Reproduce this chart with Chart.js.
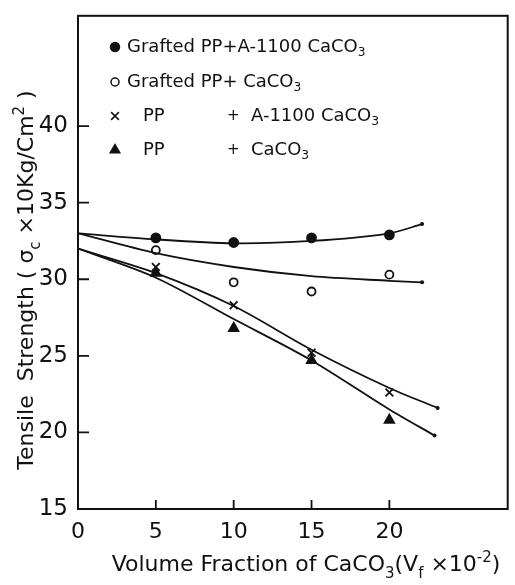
<!DOCTYPE html>
<html>
<head>
<meta charset="utf-8">
<script src="https://cdn.jsdelivr.net/npm/chart.js@4.4.0/dist/chart.umd.min.js"></script>
<style>
  html, body { margin: 0; padding: 0; background: #fff; }
  #wrap { width: 515px; height: 585px; }
</style>
</head>
<body>
<div id="wrap"><canvas id="chart"></canvas></div>
<script>
// measured points (volume fraction x 10^-2)
const fractions = [5, 10, 15, 20];
const graftedA1100 = [32.7, 32.4, 32.7, 32.9];
const graftedCaCO3 = [31.9, 29.8, 29.2, 30.3];
const ppA1100 = [30.8, 28.3, 25.2, 22.6];
const ppCaCO3 = [30.4, 26.8, 24.7, 20.8];

// hand-drawn fit curves
const curveAX = [0, 5, 10, 15, 20, 22.1];
const curveA = [33.0, 32.6, 32.35, 32.5, 33.0, 33.6];
const curveBX = [0, 5, 10, 15, 20, 22.1];
const curveB = [33.0, 31.7, 30.8, 30.2, 29.9, 29.8];
const curveCX = [0, 5, 10, 15, 20, 23.1];
const curveC = [32.0, 30.4, 28.25, 25.4, 22.9, 21.6];
const curveDX = [0, 5, 10, 15, 20, 22.9];
const curveD = [32.0, 30.1, 27.4, 24.7, 21.5, 19.8];

const xTicks = [0, 5, 10, 15, 20];
const yTicks = [15, 20, 25, 30, 35, 40];

const FONT = "'DejaVu Sans', sans-serif";
const INK = "#111";

const toXY = (xs, ys) => xs.map((x, i) => ({ x, y: ys[i] }));

function curveDataset(xs, ys) {
  return {
    data: toXY(xs, ys),
    borderColor: INK,
    backgroundColor: INK,
    borderWidth: 1.8,
    tension: 0.3,
    pointRadius: xs.map((_, i) => (i === xs.length - 1 ? 2 : 0)),
    pointBorderWidth: 0,
  };
}

function markerDataset(ys, style, filled, radius) {
  return {
    data: toXY(fractions, ys),
    showLine: false,
    pointStyle: style,
    pointRadius: radius,
    pointBorderWidth: 1.8,
    borderColor: INK,
    backgroundColor: filled ? INK : "#fff",
  };
}

// draw text pieces with sub / superscripts
function drawRuns(ctx, runs, x, y, size, align) {
  const widths = runs.map(([t, mode]) => {
    ctx.font = `${mode ? size * 0.68 : size}px ${FONT}`;
    return ctx.measureText(t).width;
  });
  const total = widths.reduce((a, b) => a + b, 0);
  let cx = align === "center" ? x - total / 2 : x;
  runs.forEach(([t, mode], i) => {
    ctx.font = `${mode ? size * 0.68 : size}px ${FONT}`;
    let dy = 0;
    if (mode === "sub") dy = size * 0.3;
    if (mode === "sup") dy = -size * 0.42;
    ctx.fillText(t, cx, y + dy);
    cx += widths[i];
  });
}

const decorPlugin = {
  id: "decor",
  afterDraw(chart) {
    const { ctx, chartArea: a, scales } = chart;
    ctx.save();
    ctx.strokeStyle = INK;
    ctx.fillStyle = INK;
    ctx.lineWidth = 2;
    ctx.strokeRect(a.left, a.top, a.right - a.left, a.bottom - a.top);

    // inward tick marks
    ctx.lineWidth = 1.8;
    ctx.beginPath();
    yTicks.slice(1).forEach((v) => {
      const py = scales.y.getPixelForValue(v);
      ctx.moveTo(a.left, py);
      ctx.lineTo(a.left + 11, py);
    });
    xTicks.slice(1).forEach((v) => {
      const px = scales.x.getPixelForValue(v);
      ctx.moveTo(px, a.bottom);
      ctx.lineTo(px, a.bottom - 9);
    });
    ctx.stroke();

    // legend
    ctx.textBaseline = "middle";
    ctx.textAlign = "left";
    const rows = [
      { y: 47, style: "circle", filled: true, r: 4.5, runs: [["Grafted PP+A-1100 CaCO", ""], ["3", "sub"]] },
      { y: 82, style: "circle", filled: false, r: 4, runs: [["Grafted PP+ CaCO", ""], ["3", "sub"]] },
      { y: 116, style: "crossRot", filled: false, r: 5.5, runs: [["PP", ""]], extra: [["A-1100 CaCO", ""], ["3", "sub"]] },
      { y: 150, style: "triangle", filled: true, r: 5.5, runs: [["PP", ""]], extra: [["CaCO", ""], ["3", "sub"]] },
    ];
    rows.forEach((row) => {
      ctx.fillStyle = row.filled ? INK : "#fff";
      ctx.strokeStyle = INK;
      ctx.lineWidth = 1.5;
      Chart.helpers.drawPoint(ctx, { pointStyle: row.style, radius: row.r, borderWidth: 1.5 }, 115, row.y);
      ctx.fillStyle = INK;
      if (row.extra) {
        drawRuns(ctx, row.runs, 143, row.y, 18, "left");
        drawRuns(ctx, [["+", ""]], 227, row.y, 15, "left");
        drawRuns(ctx, row.extra, 251, row.y, 18, "left");
      } else {
        drawRuns(ctx, row.runs, 127, row.y, 18, "left");
      }
    });

    // axis titles
    ctx.textBaseline = "alphabetic";
    drawRuns(ctx, [["Volume Fraction of CaCO", ""], ["3", "sub"], ["(V", ""], ["f", "sub"], [" ×10", ""], ["-2", "sup"], [")", ""]],
      306, 571, 22, "center");
    ctx.translate(33, 280);
    ctx.rotate(-Math.PI / 2);
    drawRuns(ctx, [["Tensile  Strength ( σ", ""], ["c", "sub"], [" ×10Kg/Cm", ""], ["2", "sup"], [" )", ""]],
      0, 0, 22, "center");
    ctx.restore();
  },
};

new Chart(document.getElementById("chart"), {
  type: "line",
  data: {
    datasets: [
      curveDataset(curveAX, curveA),
      curveDataset(curveBX, curveB),
      curveDataset(curveCX, curveC),
      curveDataset(curveDX, curveD),
      markerDataset(graftedA1100, "circle", true, 4.5),
      markerDataset(graftedCaCO3, "circle", false, 4),
      markerDataset(ppA1100, "crossRot", false, 5.5),
      markerDataset(ppCaCO3, "triangle", true, 5.5),
    ],
  },
  options: {
    responsive: true,
    maintainAspectRatio: false,
    animation: false,
    layout: { padding: { top: 7, right: 7, left: 0, bottom: 0 } },
    plugins: { legend: { display: false }, tooltip: { enabled: false } },
    scales: {
      x: {
        type: "linear",
        min: 0,
        max: 27.6,
        afterFit: (s) => { s.height = 76; },
        afterBuildTicks: (s) => { s.ticks = xTicks.map((v) => ({ value: v })); },
        grid: { display: false },
        border: { display: false },
        ticks: { color: INK, font: { family: FONT, size: 22 }, padding: 2, callback: (v) => v },
      },
      y: {
        type: "linear",
        min: 15,
        max: 47.2,
        afterFit: (s) => { s.width = 78; },
        afterBuildTicks: (s) => { s.ticks = yTicks.map((v) => ({ value: v })); },
        grid: { display: false },
        border: { display: false },
        ticks: { color: INK, font: { family: FONT, size: 23 }, padding: 2, callback: (v) => v },
      },
    },
  },
  plugins: [decorPlugin],
});
</script>
</body>
</html>
